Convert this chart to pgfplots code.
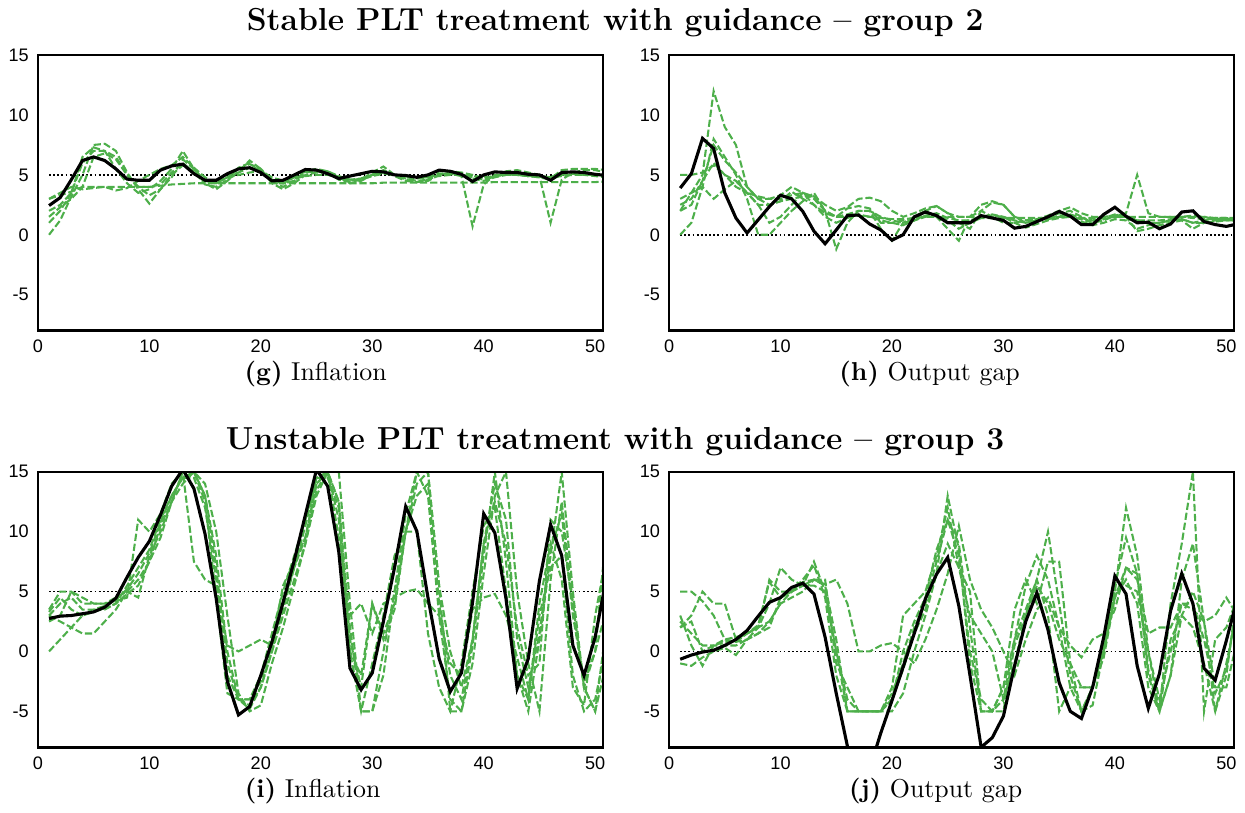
\documentclass[border=0pt]{standalone}
\usepackage{fontspec}
\usepackage{pgfplots}
\usepackage{pgfplotstable}
\pgfplotsset{compat=1.18}
\newfontfamily\tickfont{Liberation Sans}
\definecolor{grp}{HTML}{4DAF4A}

% columns: period, median forecast path (b), individual subjects (g1..g6)
\pgfplotstableread{
x b g1 g2 g3 g4 g5 g6
1 2.44 0 3.0 1.0 2.0 1.5 3.0
2 3.1 1.2 3.3 2.0 2.5 2.3 3.5
3 4.6 3.2 3.6 3.5 3.5 3.0 4.0
4 6.2 5.0 4.0 6.0 6.5 4.0 3.8
5 6.5 7.5 4.0 7.0 7.3 6.5 3.9
6 6.2 7.6 4.0 7.0 7.0 6.8 4.0
7 5.5 7.0 4.0 6.5 5.5 6.3 3.7
8 4.65 5.2 4.0 5.0 4.3 5.0 3.9
9 4.55 3.8 4.0 4.0 3.5 4.0 4.5
10 4.55 2.6 4.0 3.3 3.8 4.0 5.0
11 5.4 3.8 4.1 3.8 4.5 4.2 5.5
12 5.75 4.8 4.2 5.0 5.5 5.2 5.8
13 5.9 6.3 4.25 5.8 7.0 6.0 6.5
14 5.1 5.5 4.3 5.3 5.5 5.2 5.6
15 4.55 4.5 4.3 4.2 4.3 4.5 4.8
16 4.55 4.3 4.3 4.0 3.8 4.4 4.3
17 5.1 4.8 4.3 4.6 4.5 4.8 4.8
18 5.5 5.5 4.3 5.2 5.3 5.0 5.6
19 5.6 5.9 4.3 5.6 6.2 5.2 6.0
20 5.2 5.5 4.3 5.4 5.5 5.3 5.2
21 4.5 4.6 4.3 4.5 4.3 4.8 4.6
22 4.55 4.3 4.3 4.0 3.8 4.5 4.3
23 5.0 4.8 4.3 4.5 4.3 4.7 4.5
24 5.45 5.3 4.3 5.2 5.0 4.9 5.3
25 5.4 5.5 4.3 5.3 5.2 5.0 5.4
26 5.1 5.3 4.3 5.2 5.2 5.0 5.3
27 4.7 4.9 4.3 4.6 4.8 4.8 4.8
28 4.9 4.6 4.3 4.4 4.3 4.6 4.5
29 5.1 4.7 4.3 4.6 4.5 4.6 4.7
30 5.3 5.0 4.3 5.2 5.0 4.9 5.0
31 5.25 5.2 4.35 5.7 5.3 5.1 5.4
32 5.0 5.0 4.35 5.0 4.9 5.0 5.0
33 4.95 4.8 4.35 4.6 4.5 4.9 4.7
34 4.8 4.7 4.35 4.4 4.4 4.8 4.5
35 5.0 4.8 4.35 4.6 4.5 4.8 4.6
36 5.4 5.1 4.35 5.0 5.0 4.9 5.3
37 5.3 5.1 4.35 5.1 5.2 5.0 5.3
38 5.05 4.9 4.35 5.0 5.0 5.0 5.2
39 4.45 0.7 4.35 4.8 4.7 4.9 5.0
40 5.0 4.2 4.35 4.6 4.5 4.8 4.7
41 5.25 5.0 4.4 4.9 4.8 4.9 4.8
42 5.2 5.1 4.4 5.1 5.0 5.0 5.3
43 5.2 5.0 4.4 5.2 5.0 5.0 5.4
44 5.05 4.9 4.4 5.0 4.9 4.9 5.2
45 5.0 4.8 4.4 4.9 4.8 4.9 5.0
46 4.55 4.8 4.4 1.0 4.6 4.8 4.7
47 5.2 5.2 4.4 4.6 5.0 4.9 5.4
48 5.25 5.2 4.4 5.2 5.1 5.0 5.5
49 5.2 5.1 4.4 5.4 5.0 5.0 5.5
50 5.05 5.0 4.4 5.4 4.9 5.0 5.5
51 4.95 4.9 4.45 5.2 4.8 5.0 5.4
}\tabG

\pgfplotstableread{
x b g1 g2 g3 g4 g5 g6
1 3.9 2.0 0.0 5.0 3.0 2.0 2.5
2 5.1 3.5 1.0 5.0 3.5 2.5 3.0
3 8.05 5.0 4.0 5.2 4.0 4.5 4.5
4 7.2 12.0 8.0 5.8 3.0 6.0 7.5
5 3.5 9.0 6.5 5.0 3.8 5.0 6.2
6 1.4 7.5 5.0 4.5 4.5 4.0 5.2
7 0.15 4.0 3.0 3.5 3.5 3.5 4.0
8 1.25 3.0 0.0 3.2 2.5 2.5 3.0
9 2.35 3.0 0.0 3.0 2.5 1.0 2.5
10 3.3 3.0 1.0 3.3 2.8 1.5 2.8
11 3.0 3.3 2.0 4.0 3.0 2.5 3.6
12 1.95 3.5 2.8 3.5 3.2 3.5 3.0
13 0.3 3.0 3.5 3.2 3.2 2.5 2.5
14 -0.75 2.0 2.0 2.5 2.0 1.5 1.8
15 0.4 1.5 -1.2 2.0 1.5 1.0 1.5
16 1.6 1.5 1.0 2.3 2.2 1.4 1.7
17 1.65 1.6 2.0 3.0 2.4 1.7 2.0
18 0.9 1.5 2.0 3.1 2.2 1.5 2.0
19 0.4 1.4 0.5 2.8 1.0 1.2 1.5
20 -0.45 1.3 -0.5 2.0 1.0 1.0 1.2
21 0.0 1.3 1.0 1.5 1.2 0.8 1.0
22 1.5 1.4 1.5 1.8 1.2 1.2 1.2
23 1.9 1.5 2.0 2.2 2.0 1.5 1.6
24 1.6 1.5 1.5 2.4 2.4 1.6 1.8
25 1.0 1.5 0.5 1.8 1.8 1.2 1.4
26 1.0 1.5 -0.5 1.5 1.0 0.5 1.2
27 1.0 1.5 1.5 1.5 0.5 1.0 1.2
28 1.6 1.4 2.0 2.5 2.0 1.4 1.5
29 1.4 1.4 1.5 2.8 2.7 1.6 1.7
30 1.2 1.4 1.0 2.5 2.5 1.5 1.5
31 0.55 1.4 1.0 1.5 1.5 1.0 1.2
32 0.7 1.4 1.2 1.2 1.0 0.6 1.0
33 1.1 1.4 1.3 1.3 1.2 0.9 1.2
34 1.5 1.4 1.3 1.6 1.5 1.2 1.4
35 1.95 1.5 1.5 2.0 1.8 1.4 1.6
36 1.55 1.5 1.5 2.3 2.0 1.5 1.7
37 0.85 1.4 1.3 1.8 1.5 1.1 1.4
38 0.85 1.4 1.0 1.5 1.0 0.8 1.2
39 1.7 1.4 1.2 1.5 1.3 1.0 1.4
40 2.3 1.5 1.6 1.6 1.5 1.3 1.7
41 1.55 1.5 1.5 1.8 1.5 1.2 1.6
42 1.0 1.5 0.3 5.0 1.2 0.5 1.2
43 1.05 1.5 0.5 1.8 1.0 0.8 1.2
44 0.5 1.5 0.8 1.5 1.0 1.0 1.2
45 0.9 1.5 1.0 1.5 1.2 1.2 1.3
46 1.9 1.5 1.2 1.5 1.3 1.3 1.5
47 2.0 1.5 0.5 1.6 1.0 1.0 1.4
48 1.1 1.5 1.0 1.5 1.2 1.0 1.3
49 0.85 1.4 1.2 1.3 1.4 1.1 1.3
50 0.7 1.4 1.2 1.3 1.4 1.2 1.3
51 0.9 1.4 1.2 1.2 1.3 1.2 1.3
}\tabH

\pgfplotstableread{
x b g1 g2 g3 g4 g5 g6
1 2.75 3.5 0.0 3.0 3.3 3.0 2.5
2 2.95 5.0 1.0 2.5 4.5 4.0 3.0
3 3.0 5.0 2.0 2.0 3.5 4.5 5.0
4 3.15 4.0 3.0 1.5 3.0 3.5 4.5
5 3.3 4.0 3.3 1.5 3.5 3.5 4.0
6 3.7 4.0 3.6 2.5 3.5 3.8 4.0
7 4.45 4.2 4.0 3.5 4.0 4.3 4.5
8 6.2 4.5 4.8 5.0 5.5 5.2 5.0
9 7.85 11.0 5.5 4.5 7.0 6.5 6.0
10 9.2 10.0 7.5 8.0 8.5 8.2 7.5
11 11.4 11.5 10.5 10.0 11.0 10.8 9.5
12 13.8 14.0 12.5 12.5 13.0 13.0 12.5
13 15.2 15.0 14.0 15.0 14.5 14.5 15.0
14 13.6 7.5 15.0 15.0 15.0 14.5 15.0
15 9.8 6.0 13.0 12.5 14.0 12.0 13.0
16 4.4 5.5 8.0 4.5 10.0 6.0 7.0
17 -2.5 0.5 0.0 -3.5 3.0 -2.0 -1.0
18 -5.3 0.0 -4.0 -4.0 -3.5 -4.0 -4.0
19 -4.6 0.5 -4.5 -4.0 -5.0 -4.8 -4.0
20 -2.0 1.0 -3.0 -2.5 -4.5 -3.0 -2.0
21 0.8 0.5 0.0 0.5 -1.0 0.0 1.5
22 4.1 5.5 3.0 4.0 2.0 3.5 5.0
23 7.6 7.5 6.0 7.0 5.5 7.0 8.0
24 11.4 9.5 9.0 9.5 9.0 10.5 11.0
25 15.2 14.0 13.0 14.0 13.5 14.5 14.5
26 13.8 15.0 15.0 15.0 15.0 14.5 15.0
27 8.3 11.0 12.5 12.5 15.0 12.0 9.5
28 -1.4 0.0 2.0 0.0 4.0 1.0 3.0
29 -3.2 -2.0 -5.0 -5.0 -5.0 -3.0 4.0
30 -1.8 4.0 -5.0 -1.0 -5.0 4.0 1.5
31 2.5 1.5 0.0 3.0 -2.0 1.0 4.0
32 7.0 4.0 5.0 8.0 5.0 3.5 4.5
33 12.1 10.0 10.0 10.0 11.5 10.0 5.0
34 10.05 14.0 15.0 10.0 15.0 13.0 5.2
35 4.5 15.0 15.0 1.5 13.0 14.0 4.0
36 -0.6 5.5 5.5 -3.0 3.0 4.0 3.0
37 -3.35 0.0 -5.0 -5.0 -4.0 -2.0 -1.0
38 -1.8 -3.0 -5.0 -1.0 -5.0 -4.0 -2.0
39 4.1 1.0 0.5 5.0 -1.0 1.0 3.5
40 11.5 9.0 8.0 10.5 6.5 9.0 4.5
41 9.9 12.5 15.0 12.0 13.0 14.0 4.8
42 4.4 9.0 7.5 5.0 15.0 11.0 3.0
43 -3.1 2.0 -2.0 -2.0 5.0 1.0 -0.5
44 -0.6 -2.0 -5.0 -4.0 -1.0 -3.0 -4.0
45 5.9 -1.0 1.0 4.0 -5.0 1.5 3.0
46 10.6 11.0 8.0 9.0 6.0 8.5 7.0
47 8.0 10.0 15.0 6.0 12.5 11.5 8.0
48 0.5 4.0 5.0 -3.0 4.0 3.0 -2.0
49 -2.0 -3.0 -3.0 -4.5 -3.0 -2.5 -5.0
50 1.2 0.0 -5.0 3.0 -5.0 0.0 -4.0
51 6.05 3.5 2.0 8.0 -1.0 10.0 0.5
}\tabI

\pgfplotstableread{
x b g1 g2 g3 g4 g5 g6
1 -0.65 5.0 2.0 3.0 2.0 2.5 -1.0
2 -0.3 5.0 3.0 0.5 2.5 1.5 -1.2
3 -0.05 4.2 5.0 -1.2 0.0 0.5 -0.5
4 0.1 3.0 4.0 0.5 0.5 0.5 0.0
5 0.5 1.0 4.0 0.8 1.0 0.5 0.3
6 1.0 0.8 1.0 0.8 1.2 0.5 -0.3
7 1.75 1.0 1.5 1.5 1.5 1.0 1.0
8 2.95 1.5 2.0 2.2 2.0 2.0 1.5
9 4.1 2.5 2.5 5.8 4.0 6.0 2.0
10 4.5 4.0 4.0 4.5 7.0 5.0 4.5
11 5.35 4.5 5.0 5.0 6.0 5.0 5.0
12 5.7 5.0 5.5 6.0 5.5 5.8 5.5
13 4.8 6.0 7.5 7.2 6.0 6.0 5.5
14 1.2 5.6 5.0 4.5 6.0 5.5 5.0
15 -3.5 6.0 0.0 -2.0 -1.0 1.0 0.0
16 -7.9 4.0 -5.0 -5.0 -3.0 -5.0 -4.0
17 -11.0 0.0 -5.0 -5.0 -5.0 -5.0 -5.0
18 -9.8 0.0 -5.0 -5.0 -5.0 -5.0 -5.0
19 -6.8 0.5 -5.0 -5.0 -5.0 -5.0 -5.0
20 -4.1 0.7 -3.5 -4.0 -3.0 -4.0 -5.0
21 -1.3 0.0 -1.0 -1.5 3.0 0.0 -3.5
22 1.5 -1.0 2.0 1.5 4.0 2.5 0.0
23 4.4 1.0 4.0 3.5 5.0 4.5 3.0
24 6.45 3.5 7.5 6.5 8.0 8.5 6.5
25 7.85 6.5 11.0 13.0 12.0 11.0 9.0
26 3.8 10.5 8.0 8.5 7.0 9.0 7.0
27 -2.0 6.0 0.0 -1.0 3.0 2.0 5.0
28 -8.0 3.5 -4.0 -5.0 1.5 -5.0 -5.0
29 -7.2 2.0 -5.0 -5.0 0.0 -5.0 -5.0
30 -5.4 0.0 -4.0 -3.0 -4.0 -5.0 -3.0
31 -1.2 -2.0 -1.0 3.5 1.0 0.5 1.0
32 2.5 1.0 3.0 6.0 5.5 3.0 3.5
33 4.9 3.5 6.0 4.0 8.0 5.5 6.0
34 1.8 4.5 10.0 7.5 6.0 4.0 3.0
35 -2.6 2.0 4.0 7.5 2.0 1.0 -5.0
36 -5.0 0.5 -2.0 -1.0 -3.0 -1.0 -3.0
37 -5.6 -0.5 -5.0 -3.0 -5.0 -5.0 -3.0
38 -3.0 1.0 -3.0 -3.0 -3.0 -4.5 -3.0
39 1.2 1.5 0.5 -0.5 0.5 0.0 0.0
40 6.3 3.5 5.0 4.5 5.5 5.0 4.5
41 4.8 7.0 12.0 7.0 9.5 5.5 6.0
42 -1.2 6.0 8.0 6.5 6.5 5.0 4.0
43 -4.75 1.5 0.0 -2.0 -1.5 0.0 -3.0
44 -1.85 2.0 -5.0 -5.0 -5.0 -4.0 -5.0
45 3.4 2.0 4.0 -2.0 -2.0 0.0 1.0
46 6.5 4.0 9.0 3.0 6.0 4.0 3.0
47 4.0 3.5 15.0 5.0 9.0 4.0 2.0
48 -1.4 2.5 -5.0 2.5 2.5 1.0 -1.0
49 -2.4 3.0 1.0 -5.0 -3.0 -3.5 -5.0
50 0.9 4.5 2.0 -2.0 -3.0 -1.5 -1.0
51 4.5 3.0 4.5 5.0 1.0 4.0 3.5
}\tabJ

\pgfplotsset{
  panel/.style={
    scale only axis, width=218.5pt, height=106.5pt,
    anchor=north west,
    xmin=0, xmax=50.7, ymin=-8, ymax=15,
    xtick={0,10,20,30,40,50}, xticklabels={0,10,20,30,40,50},
    ytick={-5,0,5,10,15}, yticklabels={-5,0,5,10,15},
    major tick length=0pt,
    tick label style={font=\tickfont\fontsize{7}{8}\selectfont},
    axis line style={line width=1pt},
    axis on top,
  },
  subj/.style={grp, line width=0.8pt, dash pattern=on 2.8pt off 1.1pt},
  med/.style={black, line width=1.2pt},
  target/.style={black, line width=0.6pt, dash pattern=on 0.7pt off 0.9pt},
}

% draws one panel from a table: reference level, subjects, then the median path
\newcommand\panelplots[2]{%
  \addplot[target] coordinates {(1,#2) (51,#2)};
  \addplot[subj] table[x=x,y=g1] {#1};
  \addplot[subj] table[x=x,y=g2] {#1};
  \addplot[subj] table[x=x,y=g3] {#1};
  \addplot[subj] table[x=x,y=g4] {#1};
  \addplot[subj] table[x=x,y=g5] {#1};
  \addplot[subj] table[x=x,y=g6] {#1};
  \addplot[med] table[x=x,y=b] {#1};
}

\begin{document}
\begin{tikzpicture}
\path (0,0) rectangle (480.57pt,-312.27pt);

\node[font=\fontsize{12.3}{14}\selectfont\bfseries] at (237.39pt,-8.11pt) {Stable PLT treatment with guidance – group 2};
\node[font=\fontsize{12.3}{14}\selectfont\bfseries] at (237.39pt,-170.2pt) {Unstable PLT treatment with guidance – group 3};

\begin{axis}[panel, at={(14.17pt,-20.57pt)}]
  \panelplots{\tabG}{5}
\end{axis}
\begin{axis}[panel, at={(258.23pt,-20.57pt)}]
  \panelplots{\tabH}{0}
\end{axis}
\begin{axis}[panel, at={(14.17pt,-181.69pt)}]
  \panelplots{\tabI}{5}
\end{axis}
\begin{axis}[panel, at={(258.23pt,-181.69pt)}]
  \panelplots{\tabJ}{0}
\end{axis}

\node at (121.59pt,-143.98pt) {\textbf{(g)} Inflation};
\node at (358.98pt,-143.98pt) {\textbf{(h)} Output gap};
\node at (120.43pt,-304.94pt) {\textbf{(i)} Inflation};
\node at (361.30pt,-304.94pt) {\textbf{(j)} Output gap};
\end{tikzpicture}
\end{document}
